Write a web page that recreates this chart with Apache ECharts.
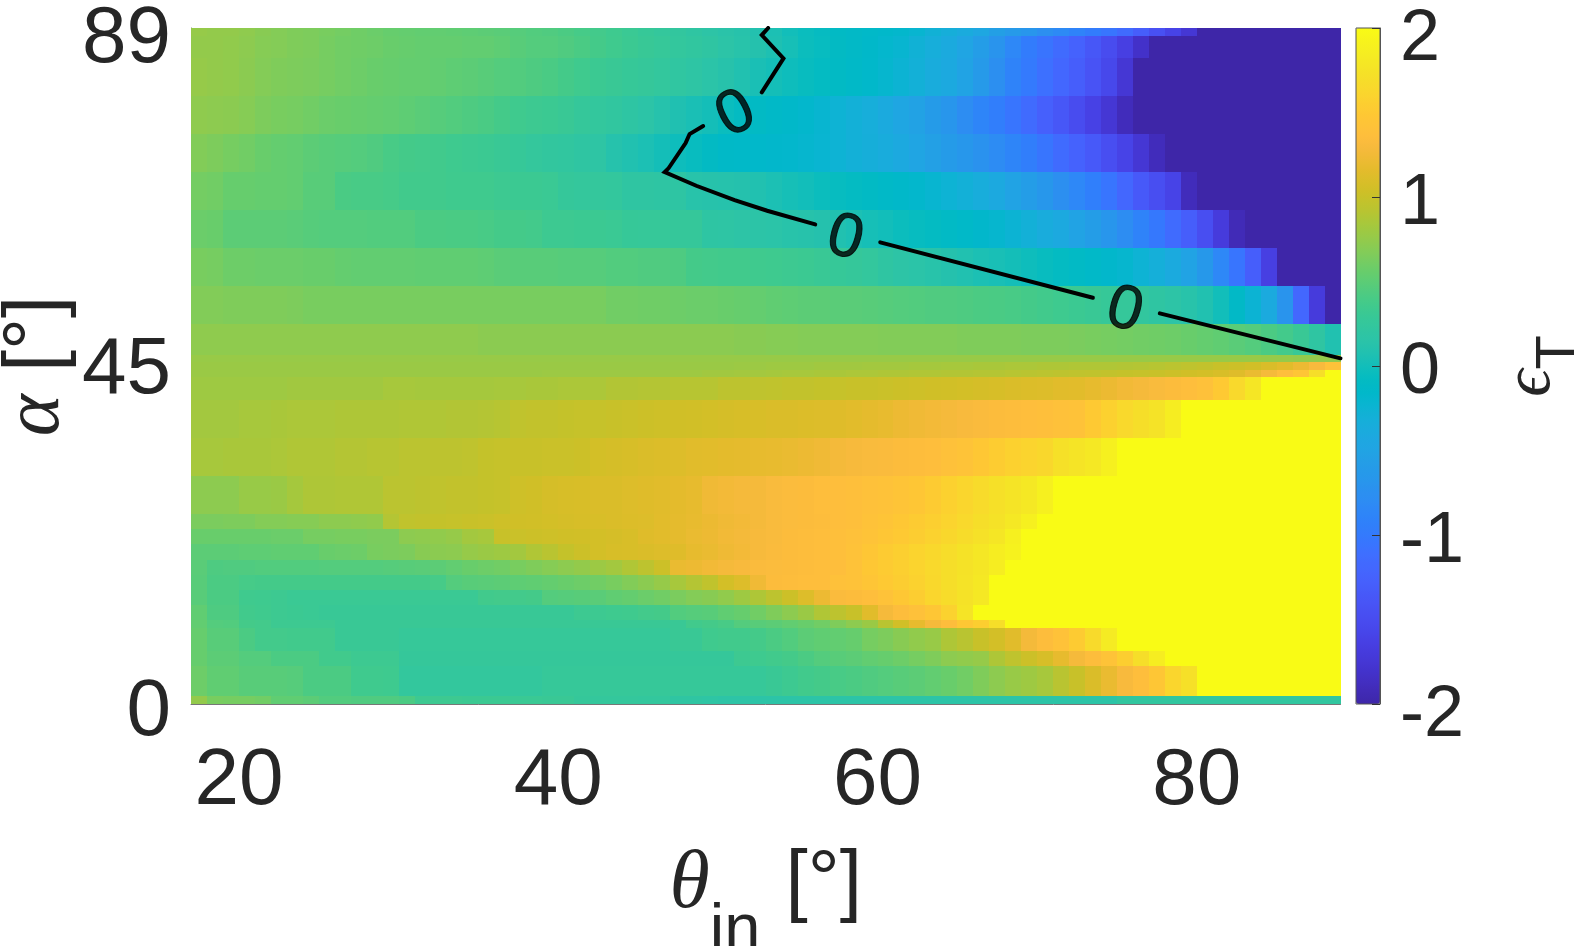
<!DOCTYPE html>
<html>
<head>
<meta charset="utf-8">
<style>html,body{margin:0;padding:0;background:#fff}#c{width:1578px;height:946px}</style>
<script src="https://cdn.jsdelivr.net/npm/echarts@6/dist/echarts.min.js"></script>
</head>
<body>
<div id="c"></div>
<script>
// theta_in cell lower edges run 17..88; each row below has one value per degree
const thetaStart = 17;
const thetaCount = 72;
// alpha band edges, bottom to top
const alphaEdges = [0,1,5,7,10,11,13,15,17,19,21,23,25,30,35,40,43,44,45,46,50,55,60,65,70,75,80,85,88,89];
const xTicks = [20,40,60,80];
const yTicks = [0,45,89];

const a0 = [.75,.63,.62,.62,.6,.52,.52,.5,.45,.45,.44,.44,.44,.42,.33,.33,.33,.32,.32,.32,.31,.31,.3,.3,.26,.25,.25,.25,.24,.24,.2,.2,.18,.17,.17,.16,
 .16,.16,.16,.16,.16,.16,.16,.16,.16,.16,.16,.16,.16,.16,.16,.16,.16,.16,.16,.16,.16,.16,.22,.22,.22,.22,.22,.22,.22,.22,.22,.22,.22,.22,.22,.22];
const a1 = [.58,.52,.52,.48,.48,.48,.47,.42,.42,.42,.35,.35,.34,.24,.24,.24,.24,.24,.24,.24,.24,.24,.27,.27,.27,.27,.27,.27,.27,.27,.27,.27,.27,.27,.27,.27,
 .3,.33,.36,.38,.4,.42,.44,.46,.48,.5,.53,.56,.6,.66,.72,.77,.8,.84,.92,1,1.1,1.2,1.3,1.36,1.47,1.62,1.72,2,2,2,2,2,2,2,2,2];
const a5 = [.55,.5,.5,.46,.46,.42,.42,.42,.36,.36,.33,.33,.33,.26,.26,.26,.26,.26,.26,.26,.26,.26,.26,.26,.26,.26,.26,.26,.26,.26,.26,.26,.26,.26,.33,.34,
 .36,.38,.42,.46,.48,.5,.53,.55,.58,.62,.66,.72,.74,.76,.87,.95,1.02,1.08,1.18,1.28,1.35,1.43,1.55,1.7,1.85,2,2,2,2,2,2,2,2,2,2,2];
const a7 = [.55,.48,.48,.42,.37,.37,.36,.36,.36,.3,.3,.3,.3,.27,.27,.27,.27,.27,.27,.27,.27,.27,.27,.27,.27,.27,.27,.27,.27,.27,.3,.3,.35,.36,.36,.38,
 .42,.45,.5,.52,.53,.55,.62,.65,.7,.74,.77,.87,.92,1,1.06,1.14,1.27,1.35,1.42,1.52,1.66,1.83,2,2,2,2,2,2,2,2,2,2,2,2,2,2];
const a10 = [.53,.46,.45,.38,.37,.33,.33,.33,.33,.3,.3,.3,.3,.3,.3,.3,.3,.3,.3,.3,.3,.3,.3,.3,.3,.3,.3,.3,.3,.3,.3,.36,.38,.4,.46,.48,
 .5,.53,.56,.6,.66,.72,.78,.92,1.05,1.18,1.28,1.35,1.48,1.55,1.7,2,2,2,2,2,2,2,2,2,2,2,2,2,2,2,2,2,2,2,2,2];
const a11 = [.52,.43,.43,.36,.35,.33,.32,.31,.29,.29,.29,.29,.29,.29,.29,.29,.29,.29,.29,.29,.29,.29,.29,.29,.33,.33,.34,.35,.37,.38,.45,.47,.48,.52,.55,.6,
 .66,.72,.78,.88,.94,1,1.14,1.28,1.35,1.4,1.47,1.58,1.76,2,2,2,2,2,2,2,2,2,2,2,2,2,2,2,2,2,2,2,2,2,2,2];
const a13 = [.48,.42,.42,.35,.34,.33,.31,.31,.31,.31,.31,.31,.31,.31,.31,.31,.31,.31,.36,.37,.37,.38,.46,.47,.48,.49,.52,.54,.57,.6,.64,.68,.7,.74,.8,.87,
 .94,1.02,1.12,1.22,1.32,1.34,1.36,1.42,1.48,1.54,1.62,1.68,1.74,1.8,2,2,2,2,2,2,2,2,2,2,2,2,2,2,2,2,2,2,2,2,2,2];
const a15 = [.48,.42,.42,.39,.38,.38,.38,.38,.38,.38,.38,.38,.38,.38,.38,.39,.46,.48,.49,.5,.51,.52,.54,.56,.58,.6,.63,.67,.71,.76,.84,.9,.96,1.06,1.12,1.24,
 1.34,1.35,1.36,1.37,1.4,1.42,1.46,1.5,1.54,1.58,1.64,1.7,1.75,1.8,2,2,2,2,2,2,2,2,2,2,2,2,2,2,2,2,2,2,2,2,2,2];
const a17 = [.49,.43,.44,.44,.45,.45,.45,.45,.46,.46,.46,.46,.47,.48,.49,.5,.53,.56,.58,.6,.63,.66,.69,.72,.75,.79,.82,.88,.94,1.02,1.2,1.22,1.25,1.28,1.3,1.32,
 1.33,1.34,1.35,1.36,1.37,1.42,1.48,1.52,1.56,1.6,1.65,1.7,1.74,1.78,1.85,2,2,2,2,2,2,2,2,2,2,2,2,2,2,2,2,2,2,2,2,2];
const a19 = [.5,.5,.5,.51,.51,.52,.52,.52,.56,.57,.58,.63,.64,.65,.7,.71,.72,.76,.78,.8,.82,.88,.92,.98,1.02,1.06,1.08,1.09,1.1,1.12,1.13,1.18,1.2,1.23,1.26,1.29,
 1.32,1.34,1.35,1.37,1.38,1.42,1.47,1.52,1.56,1.6,1.64,1.69,1.74,1.79,1.85,1.9,2,2,2,2,2,2,2,2,2,2,2,2,2,2,2,2,2,2,2,2];
const a21 = [.56,.56,.56,.56,.56,.57,.57,.62,.62,.63,.63,.64,.64,.72,.73,.74,.76,.82,.84,1,1.01,1.02,1.03,1.04,1.05,1.06,1.07,1.09,1.13,1.15,1.17,1.2,1.22,1.25,1.27,1.29,
 1.31,1.34,1.35,1.36,1.38,1.4,1.43,1.47,1.5,1.54,1.58,1.63,1.68,1.73,1.78,1.88,2,2,2,2,2,2,2,2,2,2,2,2,2,2,2,2,2,2,2,2];
const a23 = [.64,.64,.65,.65,.68,.68,.69,.69,.72,.72,.73,.74,.9,.96,.97,.98,.99,1,1.01,1.03,1.04,1.05,1.06,1.07,1.08,1.09,1.1,1.11,1.12,1.15,1.17,1.19,1.21,1.24,1.26,1.28,
 1.31,1.33,1.34,1.35,1.37,1.38,1.41,1.44,1.48,1.52,1.56,1.6,1.65,1.7,1.74,1.8,1.88,2,2,2,2,2,2,2,2,2,2,2,2,2,2,2,2,2,2,2];
const a25 = [.72,.72,.72,.77,.77,.78,.83,.87,.87,.88,.88,.88,.93,.93,.94,.96,.97,.97,.98,.99,1.03,1.04,1.07,1.08,1.09,1.1,1.1,1.12,1.13,1.14,1.16,1.18,1.24,1.26,1.28,1.28,
 1.31,1.33,1.34,1.36,1.37,1.38,1.4,1.42,1.44,1.47,1.52,1.57,1.62,1.67,1.72,1.76,1.8,1.88,2,2,2,2,2,2,2,2,2,2,2,2,2,2,2,2,2,2];
const a30 = [.84,.84,.85,.85,.85,.86,.88,.88,.88,.9,.9,.91,.91,.93,.93,.94,.94,.95,.98,.99,1,1,1.01,1.01,1.02,1.06,1.07,1.08,1.1,1.11,1.12,1.14,1.15,1.16,1.17,1.18,
 1.19,1.2,1.22,1.24,1.27,1.29,1.31,1.32,1.34,1.35,1.37,1.4,1.43,1.48,1.53,1.57,1.6,1.63,1.72,1.76,1.8,1.88,2,2,2,2,2,2,2,2,2,2,2,2,2,2];
const a35 = [.82,.82,.82,.84,.84,.85,.86,.86,.86,.87,.87,.87,.87,.88,.88,.88,.89,.89,.9,.91,.96,.97,.97,.98,.99,.99,1,1.01,1.02,1.03,1.04,1.05,1.06,1.07,1.08,1.09,
 1.1,1.1,1.11,1.12,1.13,1.15,1.17,1.19,1.22,1.24,1.26,1.28,1.3,1.32,1.34,1.35,1.36,1.38,1.4,1.42,1.5,1.57,1.65,1.7,1.75,1.85,2,2,2,2,2,2,2,2,2,2];
const a40 = [.8,.8,.8,.8,.8,.8,.81,.81,.81,.81,.81,.81,.84,.84,.83,.83,.83,.83,.83,.84,.84,.85,.85,.86,.86,.86,.89,.89,.9,.9,.91,.91,.91,.94,.94,.95,
 .96,.97,.97,.98,.99,1,1,1.01,1.02,1.03,1.04,1.05,1.06,1.07,1.08,1.1,1.11,1.12,1.14,1.15,1.18,1.21,1.25,1.28,1.31,1.34,1.37,1.4,1.5,1.65,1.78,2,2,2,2,2];
const a43 = [.78,.78,.78,.78,.78,.78,.78,.78,.78,.78,.78,.78,.78,.78,.78,.78,.78,.78,.78,.78,.78,.78,.79,.79,.79,.79,.79,.79,.79,.79,.8,.8,.81,.81,.82,.82,
 .83,.84,.84,.85,.85,.86,.86,.87,.87,.88,.88,.89,.89,.9,.9,.91,.92,.93,.94,.95,.96,.97,.98,.99,1,1.02,1.04,1.06,1.09,1.13,1.2,1.28,1.36,1.46,1.7,2];
const a44 = [.78,.78,.78,.78,.78,.78,.78,.78,.78,.78,.78,.78,.78,.78,.78,.78,.78,.78,.78,.78,.78,.78,.78,.78,.78,.78,.78,.78,.78,.78,.78,.78,.78,.78,.79,.79,
 .8,.8,.8,.81,.81,.81,.82,.82,.82,.83,.83,.84,.84,.85,.85,.86,.86,.87,.87,.88,.88,.88,.89,.9,.91,.93,.95,.97,1,1.02,1.05,1.1,1.15,1.22,1.3,1.42];
const a45 = [.77,.77,.77,.77,.77,.77,.77,.77,.77,.77,.77,.77,.77,.77,.77,.77,.77,.77,.77,.77,.77,.77,.77,.77,.77,.77,.77,.77,.77,.77,.77,.77,.77,.77,.77,.77,
 .77,.77,.77,.77,.77,.77,.77,.77,.77,.77,.77,.77,.77,.77,.77,.77,.77,.77,.77,.77,.77,.77,.77,.77,.77,.77,.77,.77,.77,.77,.77,.76,.76,.75,.75,.75];
const a46 = [.73,.73,.73,.73,.73,.73,.73,.73,.73,.73,.73,.73,.73,.73,.73,.73,.73,.73,.71,.71,.71,.71,.71,.71,.71,.71,.71,.71,.71,.71,.71,.71,.71,.71,.7,.7,
 .69,.69,.68,.68,.68,.68,.68,.67,.67,.67,.67,.67,.66,.66,.66,.66,.65,.65,.65,.64,.63,.62,.61,.6,.59,.58,.56,.54,.52,.49,.46,.42,.37,.3,.2,.08];
const a50 = [.67,.67,.66,.66,.66,.66,.65,.63,.63,.63,.63,.63,.63,.63,.63,.63,.63,.63,.63,.63,.63,.63,.63,.63,.63,.63,.6,.6,.59,.59,.58,.57,.57,.56,.55,.54,
 .52,.51,.5,.5,.49,.49,.48,.47,.46,.45,.44,.44,.43,.42,.41,.4,.38,.36,.34,.32,.3,.28,.26,.23,.2,.17,.13,.08,0,-.12,-.25,-.4,-.7,-1.2,-1.7,-2];
const a55 = [.63,.62,.58,.58,.57,.57,.57,.56,.56,.54,.53,.53,.53,.53,.52,.52,.52,.52,.51,.49,.48,.48,.48,.47,.47,.47,.45,.45,.44,.44,.43,.38,.37,.36,.36,.35,
 .34,.33,.32,.3,.28,.26,.24,.2,.17,.15,.13,.1,.08,.05,.03,.01,-.02,-.05,-.08,-.11,-.14,-.17,-.2,-.26,-.32,-.4,-.5,-.65,-.85,-1.05,-1.3,-1.65,-2,-2,-2,-2];
const a60 = [.57,.56,.5,.5,.5,.5,.49,.47,.46,.46,.46,.45,.45,.45,.42,.42,.41,.41,.4,.38,.38,.37,.33,.33,.32,.32,.31,.28,.27,.27,.26,.26,.19,.18,.17,.16,
 .15,.13,.12,.1,.08,.05,.02,0,-.03,-.06,-.08,-.11,-.14,-.17,-.2,-.25,-.3,-.36,-.42,-.5,-.58,-.68,-.78,-.9,-1.02,-1.15,-1.3,-1.48,-1.7,-1.92,-2,-2,-2,-2,-2,-2];
const a65 = [.61,.6,.55,.55,.54,.54,.53,.48,.48,.41,.4,.4,.39,.36,.36,.36,.35,.35,.35,.33,.32,.32,.31,.26,.25,.25,.24,.2,.2,.19,.19,.13,.12,.11,.1,.08,
 .05,.02,0,-.03,-.06,-.08,-.1,-.13,-.15,-.18,-.22,-.26,-.3,-.35,-.42,-.5,-.58,-.66,-.75,-.85,-.95,-1.05,-1.2,-1.35,-1.48,-1.6,-1.9,-2,-2,-2,-2,-2,-2,-2,-2,-2];
const a70 = [.67,.65,.62,.6,.56,.54,.53,.5,.48,.47,.46,.44,.4,.38,.37,.36,.34,.33,.32,.3,.28,.25,.23,.22,.2,.18,.11,.08,.05,.01,-.02,-.05,-.09,-.13,-.14,-.16,
 -.17,-.18,-.2,-.23,-.26,-.3,-.33,-.37,-.42,-.48,-.54,-.6,-.66,-.72,-.8,-.88,-.96,-1.05,-1.15,-1.25,-1.35,-1.48,-1.6,-1.75,-1.9,-2,-2,-2,-2,-2,-2,-2,-2,-2,-2,-2];
const a75 = [.73,.72,.71,.69,.65,.63,.62,.6,.57,.56,.55,.54,.53,.51,.49,.47,.45,.43,.41,.38,.35,.33,.32,.3,.26,.24,.22,.19,.16,.11,.07,.04,.01,-.04,-.08,-.1,
 -.13,-.15,-.18,-.22,-.26,-.3,-.34,-.4,-.46,-.52,-.6,-.68,-.78,-.88,-.96,-1.05,-1.15,-1.27,-1.38,-1.5,-1.62,-1.75,-1.9,-2,-2,-2,-2,-2,-2,-2,-2,-2,-2,-2,-2,-2];
const a80 = [.76,.75,.74,.71,.68,.66,.65,.64,.62,.6,.58,.56,.55,.54,.54,.53,.51,.5,.48,.46,.45,.43,.41,.38,.35,.32,.3,.28,.26,.24,.21,.18,.15,.12,.08,.04,
 .01,-.02,-.05,-.08,-.1,-.13,-.16,-.2,-.25,-.3,-.36,-.42,-.5,-.62,-.75,-.9,-1,-1.1,-1.2,-1.3,-1.42,-1.55,-1.75,-2,-2,-2,-2,-2,-2,-2,-2,-2,-2,-2,-2,-2];
const a85 = [.75,.75,.74,.72,.69,.68,.66,.65,.62,.6,.59,.58,.56,.55,.54,.54,.54,.53,.53,.51,.48,.46,.46,.44,.41,.38,.35,.32,.29,.27,.24,.22,.2,.16,.13,.1,
 .06,.02,-.03,-.06,-.09,-.12,-.15,-.19,-.22,-.28,-.34,-.4,-.48,-.58,-.7,-.85,-.98,-1.06,-1.15,-1.25,-1.38,-1.5,-1.65,-1.82,-2,-2,-2,-2,-2,-2,-2,-2,-2,-2,-2,-2];
const a88 = [.76,.75,.75,.73,.7,.68,.66,.65,.63,.61,.59,.57,.55,.54,.53,.53,.52,.51,.5,.49,.47,.45,.44,.42,.39,.37,.34,.31,.28,.25,.23,.2,.17,.14,.12,.09,
 .05,0,-.04,-.07,-.1,-.12,-.14,-.16,-.18,-.22,-.28,-.33,-.38,-.45,-.55,-.62,-.68,-.75,-.82,-.9,-.98,-1.05,-1.15,-1.3,-1.45,-1.6,-1.75,-2,-2,-2,-2,-2,-2,-2,-2,-2];

const rows = [a0,a1,a5,a7,a10,a11,a13,a15,a17,a19,a21,a23,a25,a30,a35,a40,a43,a44,a45,a46,a50,a55,a60,a65,a70,a75,a80,a85,a88];

// epsilon_T = 0 contour, pieces between the inline labels: [theta, alpha]
const contour1 = [[53.15,89],[52.75,88.07],[54.11,85],[52.75,80.53]];
const contour2 = [[49.08,76.1],[48.23,75.04],[47.98,73.85],[46.92,70.56],[46.67,70.04],[48.65,68.23],[51.05,66.35],[53.09,64.94],[56.1,63.15]];
const contour3 = [[60.17,60.78],[73.49,53.49]];
const contour4 = [[77.68,51.43],[89,45.51]];
const contourLabels = [[51.05,77.94,27],[58.01,61.61,-15],[75.52,52.13,-15]];

// colour map, 64 levels
const cmap = [
[.2422,.1504,.6603],[.2504,.1650,.7076],[.2578,.1818,.7511],[.2647,.1978,.7952],[.2706,.2147,.8364],[.2751,.2342,.8710],[.2783,.2559,.8991],[.2803,.2782,.9221],
[.2813,.3006,.9414],[.2810,.3228,.9579],[.2795,.3447,.9717],[.2760,.3667,.9829],[.2699,.3892,.9906],[.2602,.4123,.9952],[.2440,.4358,.9988],[.2206,.4603,.9973],
[.1963,.4847,.9892],[.1834,.5074,.9798],[.1786,.5289,.9682],[.1764,.5499,.9520],[.1687,.5703,.9359],[.1540,.5902,.9218],[.1460,.6091,.9079],[.1380,.6276,.8973],
[.1248,.6459,.8883],[.1113,.6635,.8763],[.0952,.6798,.8598],[.0689,.6948,.8394],[.0297,.7082,.8163],[.0036,.7203,.7917],[.0067,.7312,.7660],[.0433,.7411,.7394],
[.0964,.7500,.7120],[.1408,.7584,.6842],[.1717,.7670,.6554],[.1938,.7758,.6251],[.2161,.7843,.5923],[.2470,.7918,.5567],[.2906,.7973,.5188],[.3406,.8008,.4789],
[.3909,.8029,.4354],[.4456,.8024,.3909],[.5044,.7993,.3480],[.5616,.7942,.3045],[.6174,.7876,.2612],[.6720,.7793,.2227],[.7242,.7698,.1910],[.7738,.7598,.1646],
[.8203,.7498,.1535],[.8634,.7406,.1596],[.9035,.7330,.1774],[.9393,.7288,.2100],[.9728,.7298,.2394],[.9956,.7434,.2371],[.9970,.7659,.2199],[.9952,.7861,.1990],
[.9892,.8136,.1895],[.9786,.8386,.1766],[.9676,.8639,.1643],[.9610,.8890,.1537],[.9597,.9135,.1423],[.9628,.9373,.1265],[.9691,.9606,.1064],[.9769,.9839,.0805]
].map(c => 'rgb(' + c.map(v => Math.round(v * 255)).join(',') + ')');

const cells = [];
rows.forEach((row, r) => {
  if (row.length !== thetaCount) throw new Error('row ' + alphaEdges[r] + ' has ' + row.length);
  row.forEach((v, k) => cells.push([thetaStart + k, alphaEdges[r], alphaEdges[r + 1], v]));
});

const INK = '#262626';
const SANS = '"Liberation Sans", Arial, sans-serif';
const SERIF = '"Liberation Serif", serif';

const chart = echarts.init(document.getElementById('c'), null, {renderer: 'canvas'});
const lineStyle = {color: '#000', width: 4, cap: 'round', join: 'miter'};
const contourSeries = [contour1, contour2, contour3, contour4].map(d => ({
  type: 'line', data: d, xAxisIndex: 0, yAxisIndex: 0, showSymbol: false, symbol: 'none',
  lineStyle, silent: true, z: 5, animation: false, clip: true
}));

chart.setOption({
  animation: false,
  backgroundColor: '#fff',
  grid: [
    {left: 191, top: 28, width: 1149.5, height: 676, containLabel: false, outerBoundsMode: 'none'},
    {left: 1356, top: 28, width: 24, height: 676, show: true, borderColor: '#555', borderWidth: 1, backgroundColor: 'transparent', z: 10, outerBoundsMode: 'none'}
  ],
  xAxis: [
    {type: 'value', gridIndex: 0, min: 17, max: 89, splitLine: {show: false},
     axisLine: {show: true, onZero: false, lineStyle: {color: '#777', width: 1}},
     axisTick: {show: true, inside: true, length: 11, customValues: xTicks, lineStyle: {color: '#777'}},
     axisLabel: {customValues: xTicks, fontFamily: SANS, fontSize: 80, color: INK, margin: 38},
     name: '{t|θ}{s|in}{u| [°]}', nameLocation: 'middle', nameGap: 140,
     nameTextStyle: {rich: {
       t: {fontFamily: SERIF, fontStyle: 'italic', fontSize: 82, color: INK, lineHeight: 120, verticalAlign: 'top'},
       s: {fontFamily: SANS, fontSize: 65, color: INK, lineHeight: 120, verticalAlign: 'bottom', padding: [0, 3, 0, 0]},
       u: {fontFamily: SANS, fontSize: 80, color: INK, lineHeight: 120, verticalAlign: 'top'}
     }}},
    {type: 'value', gridIndex: 1, min: 0, max: 1, show: false}
  ],
  yAxis: [
    {type: 'value', gridIndex: 0, min: 0, max: 89, splitLine: {show: false},
     axisLine: {show: true, onZero: false, lineStyle: {color: '#777', width: 1}},
     axisTick: {show: true, inside: true, length: 11, customValues: yTicks, lineStyle: {color: '#777'}},
     axisLabel: {customValues: yTicks, fontFamily: SANS, fontSize: 80, color: INK, margin: 20,
       formatter: v => (v === 89 ? '{e|' : '{m|') + v + '}',
       rich: {
         e: {fontFamily: SANS, fontSize: 80, color: INK, padding: [24, 0, 0, 0]},
         m: {fontFamily: SANS, fontSize: 80, color: INK, padding: [18, 0, 0, 0]}
       }},
     name: '{t|α}{u| [°]}', nameLocation: 'middle', nameRotate: 90, nameGap: 114, nameMoveOverlap: false,
     nameTextStyle: {rich: {
       t: {fontFamily: SERIF, fontStyle: 'italic', fontSize: 80, color: INK},
       u: {fontFamily: SANS, fontSize: 80, color: INK}
     }}},
    {type: 'value', gridIndex: 1, min: -2, max: 2, interval: 1, position: 'right', z: 11, splitLine: {show: false},
     axisLine: {show: true, onZero: false, lineStyle: {color: '#555', width: 1}},
     axisTick: {show: true, inside: true, length: 8, lineStyle: {color: '#333'}},
     axisLabel: {fontFamily: SANS, fontSize: 72, color: INK, margin: 20,
       formatter: v => (Math.abs(v) === 2 ? '{e|' : '{m|') + v + '}',
       rich: {
         e: {fontFamily: SANS, fontSize: 72, color: INK, padding: [24, 0, 0, 0]},
         m: {fontFamily: SANS, fontSize: 72, color: INK, padding: [14, 0, 0, 0]}
       }},
     name: '{t|ϵ}{s|T}', nameLocation: 'middle', nameRotate: 90, nameGap: 117,
     nameTextStyle: {rich: {
       t: {fontFamily: SERIF, fontStyle: 'italic', fontSize: 68, color: INK, lineHeight: 90, verticalAlign: 'top'},
       s: {fontFamily: SANS, fontSize: 56, color: INK, lineHeight: 90, verticalAlign: 'bottom'}
     }}}
  ],
  visualMap: {
    type: 'continuous', seriesIndex: 0, dimension: 3, min: -2, max: 2,
    left: 1356, top: 28, padding: 0, itemWidth: 24, itemHeight: 676,
    calculable: false, hoverLink: false, showLabel: false, text: null,
    inRange: {color: cmap}
  },
  series: [
    {type: 'custom', xAxisIndex: 0, yAxisIndex: 0, data: cells, silent: true, clip: true, z: 2,
     encode: {x: [0], y: [1, 2]}, progressive: 0, animation: false,
     renderItem(params, api) {
       const p0 = api.coord([api.value(0), api.value(1)]);
       const p1 = api.coord([api.value(0) + 1, api.value(2)]);
       const x0 = Math.round(p0[0]), x1 = Math.round(p1[0]);
       const y0 = Math.round(p0[1]), y1 = Math.round(p1[1]);
       return {type: 'rect', shape: {x: x0, y: y1, width: x1 - x0, height: y0 - y1},
               style: {fill: api.visual('color')}};
     }},
    ...contourSeries,
    {type: 'scatter', xAxisIndex: 0, yAxisIndex: 0, symbolSize: 0, silent: true, z: 6, animation: false,
     data: contourLabels.map(d => ({
       value: [d[0], d[1]],
       label: {show: true, position: 'inside', formatter: '0', rotate: d[2], offset: [0, 3], fontFamily: SANS, fontSize: 62, color: '#000',
               textBorderColor: '#000', textBorderWidth: 1, align: 'center', verticalAlign: 'middle'}
     }))}
  ]
});
</script>
</body>
</html>
